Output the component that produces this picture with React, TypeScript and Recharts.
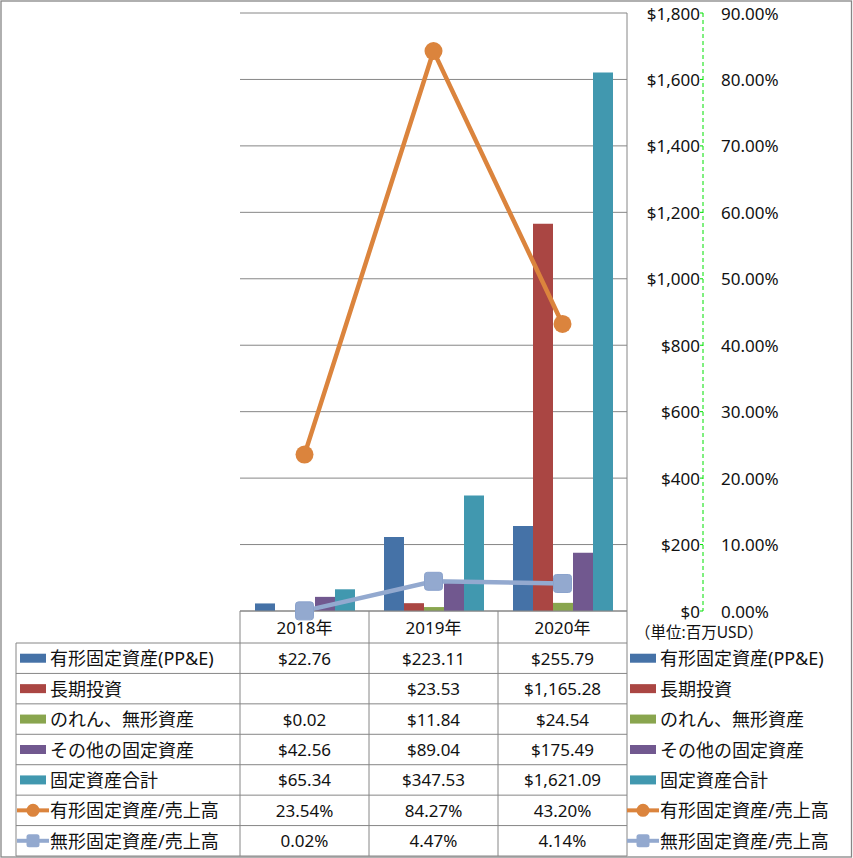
import { Bar, CartesianGrid, ComposedChart, Line, XAxis, YAxis } from "recharts";

const years = ["2018年", "2019年", "2020年"];
const ppe = [22.76, 223.11, 255.79];
const longTermInvest: (number | null)[] = [null, 23.53, 1165.28];
const goodwill = [0.02, 11.84, 24.54];
const otherFixed = [42.56, 89.04, 175.49];
const totalFixed = [65.34, 347.53, 1621.09];
const ppeToSales = [23.54, 84.27, 43.2];
const intangibleToSales = [0.02, 4.47, 4.14];

const usdTicks = [0, 200, 400, 600, 800, 1000, 1200, 1400, 1600, 1800];
const pctTicks = [0, 10, 20, 30, 40, 50, 60, 70, 80, 90];

type Series = {
  key: string;
  name: string;
  color: string;
  kind: "bar" | "circle" | "square";
  values: (number | null)[];
};

const series: Series[] = [
  { key: "ppe", name: "有形固定資産(PP&E)", color: "#4572A7", kind: "bar", values: ppe },
  { key: "lti", name: "長期投資", color: "#AA4643", kind: "bar", values: longTermInvest },
  { key: "gw", name: "のれん、無形資産", color: "#89A54E", kind: "bar", values: goodwill },
  { key: "other", name: "その他の固定資産", color: "#71588F", kind: "bar", values: otherFixed },
  { key: "total", name: "固定資産合計", color: "#4198AF", kind: "bar", values: totalFixed },
  { key: "ppeR", name: "有形固定資産/売上高", color: "#DB843D", kind: "circle", values: ppeToSales },
  { key: "intR", name: "無形固定資産/売上高", color: "#93A9CF", kind: "square", values: intangibleToSales },
];

const data = years.map((year, i) => {
  const row: Record<string, string | number | null> = { year };
  series.forEach((s) => {
    row[s.key] = s.values[i];
  });
  return row;
});

// layout (px)
const W = 853;
const H = 858;
const PLOT_L = 240;
const PLOT_R = 627;
const PLOT_T = 13;
const PLOT_B = 611;
const HEAD_H = 32;
const TABLE_L = 16;
const TABLE_B = 856;
const ROW_TOP = PLOT_B + HEAD_H;
const ROW_H = (TABLE_B - ROW_TOP) / series.length;
const BAND = (PLOT_R - PLOT_L) / years.length;
const GRID = "#868686";
const FONT = "'Noto Sans', 'Noto Sans CJK JP', sans-serif";

const money = (v: number) =>
  "$" + v.toLocaleString("en-US", { minimumFractionDigits: 2, maximumFractionDigits: 2 });
const pct = (v: number) => v.toFixed(2) + "%";

function UsdTick({ x, y, payload }: any) {
  return (
    <text x={x + 73} y={y} textAnchor="end" dominantBaseline="central" fontSize={17} fill="#111">
      {"$" + Number(payload.value).toLocaleString("en-US")}
    </text>
  );
}

function PctTick({ x, y, payload }: any) {
  return (
    <g>
      <line x1={x - 3} x2={x} y1={y} y2={y} stroke="#00E000" strokeWidth={1} />
      <text x={x + 18} y={y} dominantBaseline="central" fontSize={17} fill="#111">
        {Number(payload.value).toFixed(2) + "%"}
      </text>
    </g>
  );
}

function YearTick({ x, y, payload }: any) {
  return (
    <text x={x} y={y + HEAD_H / 2} textAnchor="middle" dominantBaseline="central" fontSize={17} fill="#111">
      {payload.value}
    </text>
  );
}

function SquareDot({ cx, cy }: any) {
  if (cx == null || cy == null) return null;
  return <rect x={cx - 9} y={cy - 9} width={18} height={18} rx={3} fill="#93A9CF" stroke="#8AA2CC" />;
}

function LegendIcon({ s, x, cy }: { s: Series; x: number; cy: number }) {
  if (s.kind === "bar") {
    return <rect x={x} y={cy - 4.5} width={26} height={9} fill={s.color} />;
  }
  return (
    <g>
      <line x1={x - 3} x2={x + 29} y1={cy} y2={cy} stroke={s.color} strokeWidth={4} />
      {s.kind === "circle" ? (
        <circle cx={x + 13} cy={cy} r={6.5} fill={s.color} />
      ) : (
        <rect x={x + 6.5} y={cy - 6.5} width={13} height={13} rx={2.5} fill={s.color} />
      )}
    </g>
  );
}

function TableOverlay() {
  const rowsY = series.map((_, i) => ROW_TOP + i * ROW_H);
  return (
    <svg width={W} height={H} style={{ position: "absolute", left: 0, top: 0, pointerEvents: "none" }}>
      <rect x={1} y={1} width={W - 2.5} height={H - 2} fill="none" stroke={GRID} strokeWidth={1.3} />
      {/* table grid */}
      {[...rowsY, TABLE_B].map((y, i) => (
        <line key={"h" + i} x1={TABLE_L} x2={PLOT_R} y1={y} y2={y} stroke={GRID} />
      ))}
      <line x1={TABLE_L} x2={TABLE_L} y1={ROW_TOP} y2={TABLE_B} stroke={GRID} />
      {years.map((_, i) => (
        <line key={"v" + i} x1={PLOT_L + i * BAND} x2={PLOT_L + i * BAND} y1={PLOT_B} y2={TABLE_B} stroke={GRID} />
      ))}
      <line x1={PLOT_R} x2={PLOT_R} y1={PLOT_B} y2={TABLE_B} stroke={GRID} />
      {/* table rows */}
      {series.map((s, i) => {
        const cy = rowsY[i] + ROW_H / 2;
        return (
          <g key={s.key}>
            <LegendIcon s={s} x={20} cy={cy} />
            <text x={50} y={cy} dominantBaseline="central" fontSize={18} fill="#111">
              {s.name}
            </text>
            {s.values.map((v, j) =>
              v == null ? null : (
                <text
                  key={j}
                  x={PLOT_L + (j + 0.5) * BAND}
                  y={cy}
                  textAnchor="middle"
                  dominantBaseline="central"
                  fontSize={17}
                  fill="#111"
                >
                  {s.kind === "bar" ? money(v) : pct(v)}
                </text>
              )
            )}
            <LegendIcon s={s} x={630} cy={cy} />
            <text x={660} y={cy} dominantBaseline="central" fontSize={18} fill="#111">
              {s.name}
            </text>
          </g>
        );
      })}
      <text x={635} y={632} dominantBaseline="central" fontSize={15.5} fill="#111">
        （単位:百万USD）
      </text>
    </svg>
  );
}

export default function App() {
  return (
    <div style={{ position: "relative", width: W, height: H, fontFamily: FONT, background: "#fff" }}>
      <style>{"body{margin:0}"}</style>
      <ComposedChart
        width={W}
        height={H}
        data={data}
        margin={{ top: PLOT_T, left: PLOT_L, right: 0, bottom: H - PLOT_B - HEAD_H }}
        barSize={20}
        barGap={0}
      >
        <CartesianGrid yAxisId="y1" vertical={false} stroke={GRID} strokeWidth={1} />
        <XAxis
          dataKey="year"
          height={HEAD_H}
          axisLine={{ stroke: GRID }}
          tickLine={false}
          tickSize={0}
          tickMargin={0}
          tick={<YearTick />}
          interval={0}
        />
        <YAxis
          yAxisId="y2"
          orientation="right"
          width={150}
          domain={[0, 90]}
          ticks={pctTicks}
          interval={0}
          axisLine={{ stroke: "#00E000", strokeDasharray: "4 3" }}
          tickLine={false}
          tickSize={0}
          tickMargin={0}
          tick={<PctTick />}
        />
        <YAxis
          yAxisId="y1"
          orientation="right"
          width={76}
          domain={[0, 1800]}
          ticks={usdTicks}
          interval={0}
          axisLine={{ stroke: GRID }}
          tickLine={false}
          tickSize={0}
          tickMargin={0}
          tick={<UsdTick />}
        />
        {series
          .filter((s) => s.kind === "bar")
          .map((s) => (
            <Bar key={s.key} yAxisId="y1" dataKey={s.key} name={s.name} fill={s.color} isAnimationActive={false} />
          ))}
        <Line
          yAxisId="y2"
          dataKey="ppeR"
          name="有形固定資産/売上高"
          stroke="#DB843D"
          strokeWidth={4.5}
          dot={{ r: 9, fill: "#DB843D", strokeWidth: 0 }}
          activeDot={false}
          isAnimationActive={false}
        />
        <Line
          yAxisId="y2"
          dataKey="intR"
          name="無形固定資産/売上高"
          stroke="#93A9CF"
          strokeWidth={4.5}
          dot={<SquareDot />}
          activeDot={false}
          isAnimationActive={false}
        />
      </ComposedChart>
      <TableOverlay />
    </div>
  );
}
